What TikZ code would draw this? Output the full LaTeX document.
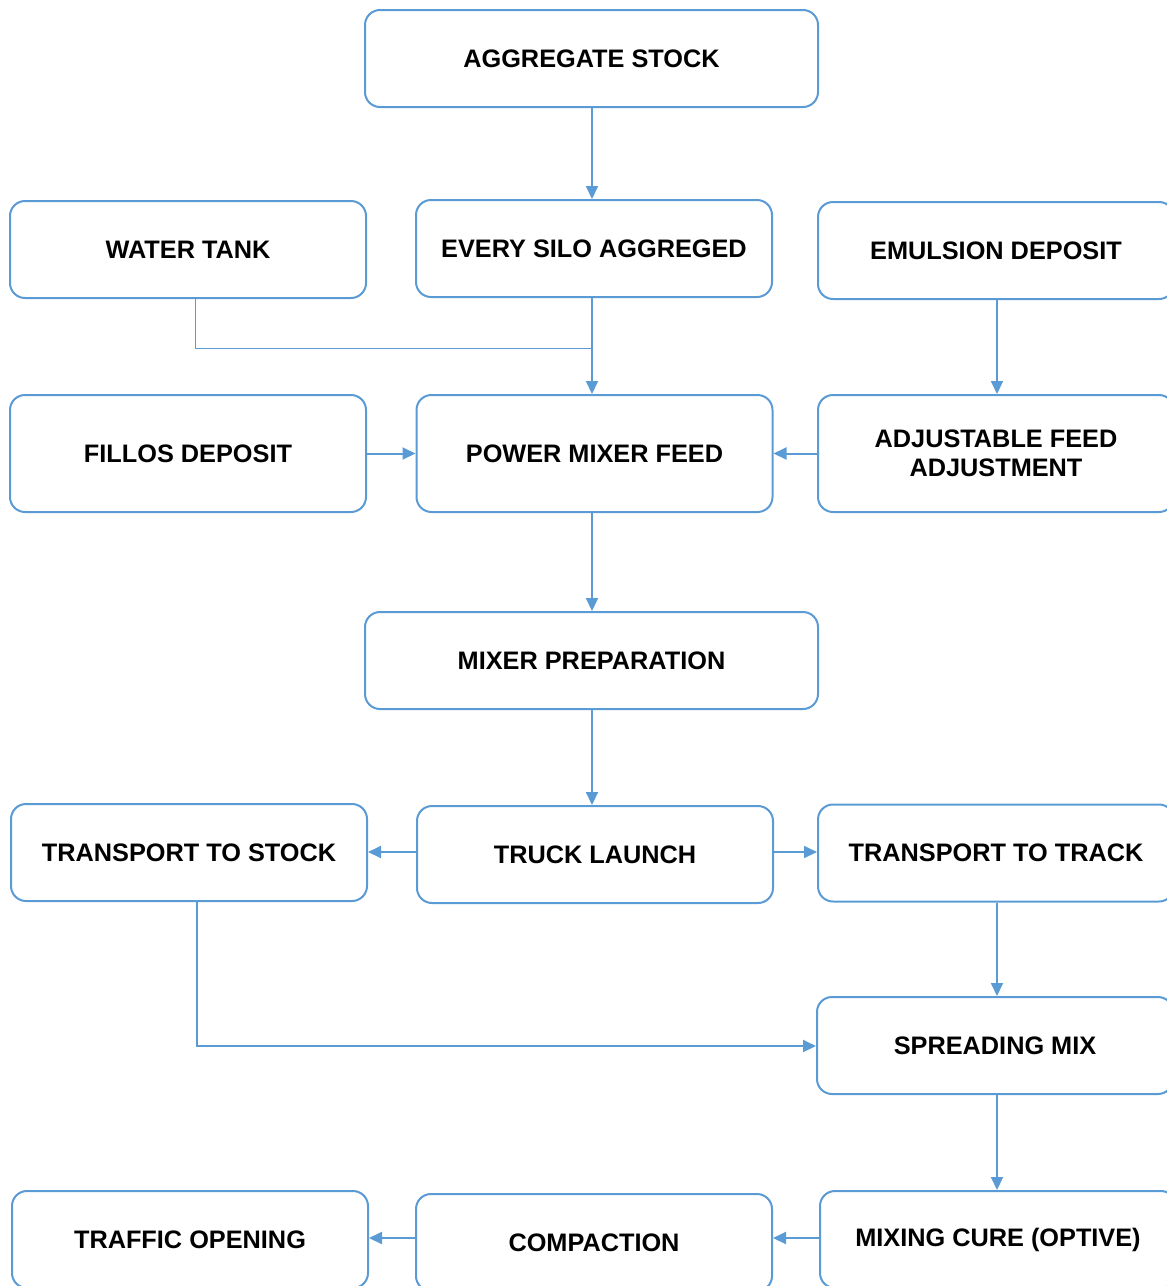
\documentclass[tikz,border=0pt]{standalone}
\usepackage{fontspec}
\setmainfont{Liberation Sans}
\usetikzlibrary{arrows.meta}
\definecolor{flowblue}{HTML}{5B9BD5}
\begin{document}
\begin{tikzpicture}[x=1pt,y=-1pt,
    box/.style={draw=flowblue,line width=2pt,rounded corners=15pt,minimum width=356pt,minimum height=97pt,
      align=center,font=\fontsize{25.3}{29.5}\selectfont\bfseries,inner sep=0pt},
    widebox/.style={box,minimum width=453pt},
    tallbox/.style={box,minimum height=117pt},
    flow/.style={draw=flowblue,line width=2pt,-{Triangle[length=13pt,width=12pt]}}]
    \useasboundingbox (0,0) rectangle (1167,1286);
    \clip (0,0) rectangle (1167,1286);
    % first row
    \node[widebox] (agg) at (591.5,58.5) {AGGREGATE STOCK};
    \node[box] (water) at (188,249.5) {WATER TANK};
    \node[box] (silo) at (594,248.5) {EVERY SILO AGGREGED};
    \node[box] (emul) at (996,250.5) {EMULSION DEPOSIT};
    % feed row
    \node[tallbox] (fillos) at (188,453.5) {FILLOS DEPOSIT};
    \node[tallbox] (power) at (594.5,453.5) {POWER MIXER FEED};
    \node[tallbox] (adjust) at (996,453.5) {ADJUSTABLE FEED\\ADJUSTMENT};
    \node[widebox] (prep) at (591.5,660.5) {MIXER PREPARATION};
    % truck row
    \node[box] (tstock) at (189,852.5) {TRANSPORT TO STOCK};
    \node[box] (truck) at (595,854.5) {TRUCK LAUNCH};
    \node[box] (ttrack) at (996,853) {TRANSPORT TO TRACK};
    \node[box] (spread) at (995,1045.5) {SPREADING MIX};
    % last row
    \node[box] (traffic) at (190,1239.5) {TRAFFIC OPENING};
    \node[box] (compact) at (594,1242.5) {COMPACTION};
    \node[box] (cure) at (998,1239.5) {MIXING CURE (OPTIVE)};
    \coordinate (wbend) at (195,348);
    \coordinate (sbend) at (197,1046);
    \draw[flow] (agg.south -| 592,0) -- (silo.north -| 592,0);
    \draw[draw=flowblue,line width=1pt] (water.south -| wbend) -- (wbend) -- (wbend -| 592,0);% water line
    \draw[flow] (silo.south -| 592,0) -- (power.north -| 592,0);
    \draw[flow] (emul.south -| 997,0) -- (adjust.north -| 997,0);
    \draw[flow] (fillos.east) -- (power.west);
    \draw[flow] (adjust.west) -- (power.east);
    \draw[flow] (power.south -| 592,0) -- (prep.north -| 592,0);
    \draw[flow] (prep.south -| 592,0) -- (truck.north -| 592,0);
    \draw[flow] (truck.west |- 0,852) -- (tstock.east |- 0,852);
    \draw[flow] (truck.east |- 0,852) -- (ttrack.west |- 0,852);
    \draw[flow] (ttrack.south -| 997,0) -- (spread.north -| 997,0);
    \draw[flow] (tstock.south -| sbend) -- (sbend) -- (spread.west |- sbend);% stock line
    \draw[flow] (spread.south -| 997,0) -- (cure.north -| 997,0);
    \draw[flow] (cure.west |- 0,1238) -- (compact.east |- 0,1238);
    \draw[flow] (compact.west |- 0,1238) -- (traffic.east |- 0,1238);
  \end{tikzpicture}
\end{document}
